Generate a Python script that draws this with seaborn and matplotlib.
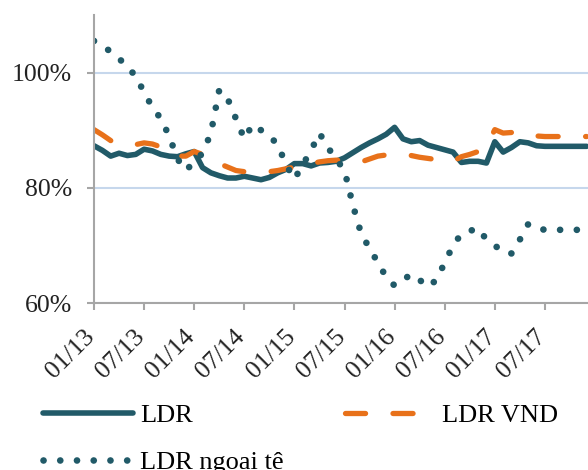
import pandas as pd
import numpy as np
from matplotlib import pyplot as plt
from matplotlib.transforms import ScaledTranslation
import seaborn as sns

# tháng 01/2013 .. 12/2017
months = pd.date_range('2013-01-01', '2017-12-01', freq='MS')
tick_labels = ['01/13', '07/13', '01/14', '07/14', '01/15',
               '07/15', '01/16', '07/16', '01/17', '07/17']

ldr = [87.3, 86.5, 85.5, 86.0, 85.6, 85.8, 86.7, 86.4, 85.8, 85.5,
       85.4, 85.9, 86.3, 83.5, 82.6, 82.1, 81.7, 81.7, 82.0, 81.7,
       81.4, 81.8, 82.6, 83.2, 84.2, 84.2, 83.8, 84.3, 84.4, 84.6,
       85.2, 86.1, 87.0, 87.8, 88.5, 89.3, 90.5, 88.5, 88.0, 88.2,
       87.4, 87.0, 86.6, 86.2, 84.4, 84.6, 84.6, 84.3, 88.0, 86.2,
       87.0, 88.0, 87.8, 87.3, 87.2, 87.2, 87.2, 87.2, 87.2, 87.2]
ldr_vnd = [90.1, 89.2, 88.2, 87.6, 87.4, 87.5, 87.8, 87.6, 87.1, 86.2,
           85.5, 85.5, 86.3, 85.8, 84.8, 84.2, 83.6, 83.0, 82.8, 82.7,
           82.7, 82.8, 83.0, 83.3, 83.6, 83.9, 84.2, 84.5, 84.7, 84.8,
           84.8, 84.6, 84.5, 85.0, 85.5, 85.7, 85.9, 85.8, 85.6, 85.3,
           85.1, 84.9, 84.7, 84.6, 85.4, 85.8, 86.3, 87.2, 90.1, 89.5,
           89.6, 89.8, 89.5, 89.0, 88.9, 88.9, 88.9, 88.9, 88.9, 88.9]
ldr_ngoai_te = [105.5, 104.5, 103.7, 102.5, 100.8, 99.5, 96.5, 94.0, 92.0, 89.0,
                85.0, 83.0, 84.5, 86.0, 89.5, 97.0, 95.5, 92.0, 88.5, 91.0,
                90.0, 89.0, 87.5, 84.0, 81.5, 84.0, 86.5, 89.5, 87.0, 85.0,
                83.0, 77.0, 72.0, 69.5, 67.0, 64.5, 63.0, 64.0, 65.0, 64.0,
                62.8, 64.0, 67.0, 70.0, 72.0, 72.5, 73.0, 71.0, 70.0, 68.8,
                68.6, 71.0, 73.7, 73.0, 72.7, 72.7, 72.7, 72.7, 72.7, 72.7]

df = pd.DataFrame({'t': np.arange(len(months)), 'LDR': ldr,
                   'LDR VND': ldr_vnd, 'LDR ngoại tệ': ldr_ngoai_te})

teal = '#215a68'
orange = '#e8711a'
plt.rcParams['font.family'] = ['Liberation Serif', 'DejaVu Serif']

fig = plt.figure(figsize=(5.88, 4.70), dpi=100)
ax = fig.add_axes([94/588, 167/470, 494/588, 288/470])

sns.lineplot(data=df, x='t', y='LDR', ax=ax, color=teal, lw=4.0,
             solid_capstyle='round', label='LDR')
sns.lineplot(data=df, x='t', y='LDR VND', ax=ax, color=orange, lw=3.8,
             linestyle=(0, (3.8, 5.2)), dash_capstyle='round', label='LDR VND')
sns.lineplot(data=df, x='t', y='LDR ngoại tệ', ax=ax, color=teal, lw=4.8,
             linestyle=(0, (0.01, 2.5)), dash_capstyle='round', label='LDR ngoại tệ')

ax.set_xlim(0, 59.16)
ax.set_ylim(60, 110)
ax.set_yticks([60, 80, 100])
ax.set_yticklabels(['60%', '80%', '100%'])
ax.set_xticks(np.arange(0, 60, 6))
ax.set_xticklabels(tick_labels, rotation=45, ha='right')
ax.set_xlabel('')
ax.set_ylabel('')
ax.yaxis.grid(True, color='#c6d7ec', lw=1.5)
ax.set_axisbelow(True)
for s in ['top', 'right']:
    ax.spines[s].set_visible(False)
for s in ['left', 'bottom']:
    ax.spines[s].set_color('#a6a6a6')
    ax.spines[s].set_linewidth(1.5)
ax.tick_params(axis='both', colors='#a6a6a6', width=1.5, length=5,
               labelsize=18.5, labelcolor='#222222')
ax.tick_params(axis='y', pad=11)
ax.tick_params(axis='x', pad=11)
shift = ScaledTranslation(5/100, 0, fig.dpi_scale_trans)
for lab in ax.get_xticklabels():
    lab.set_transform(lab.get_transform() + shift)

ax.get_legend().remove()
h, l = ax.get_legend_handles_labels()
fig.legend([h[0], h[2], h[1]], [l[0], l[2], l[1]], ncol=2, frameon=False,
           fontsize=19, loc='upper left', bbox_to_anchor=(0.055, 0.163),
           handlelength=3.4, handletextpad=0.27, columnspacing=2.35,
           labelspacing=0.89, borderaxespad=0)

fig.savefig('out.png')
